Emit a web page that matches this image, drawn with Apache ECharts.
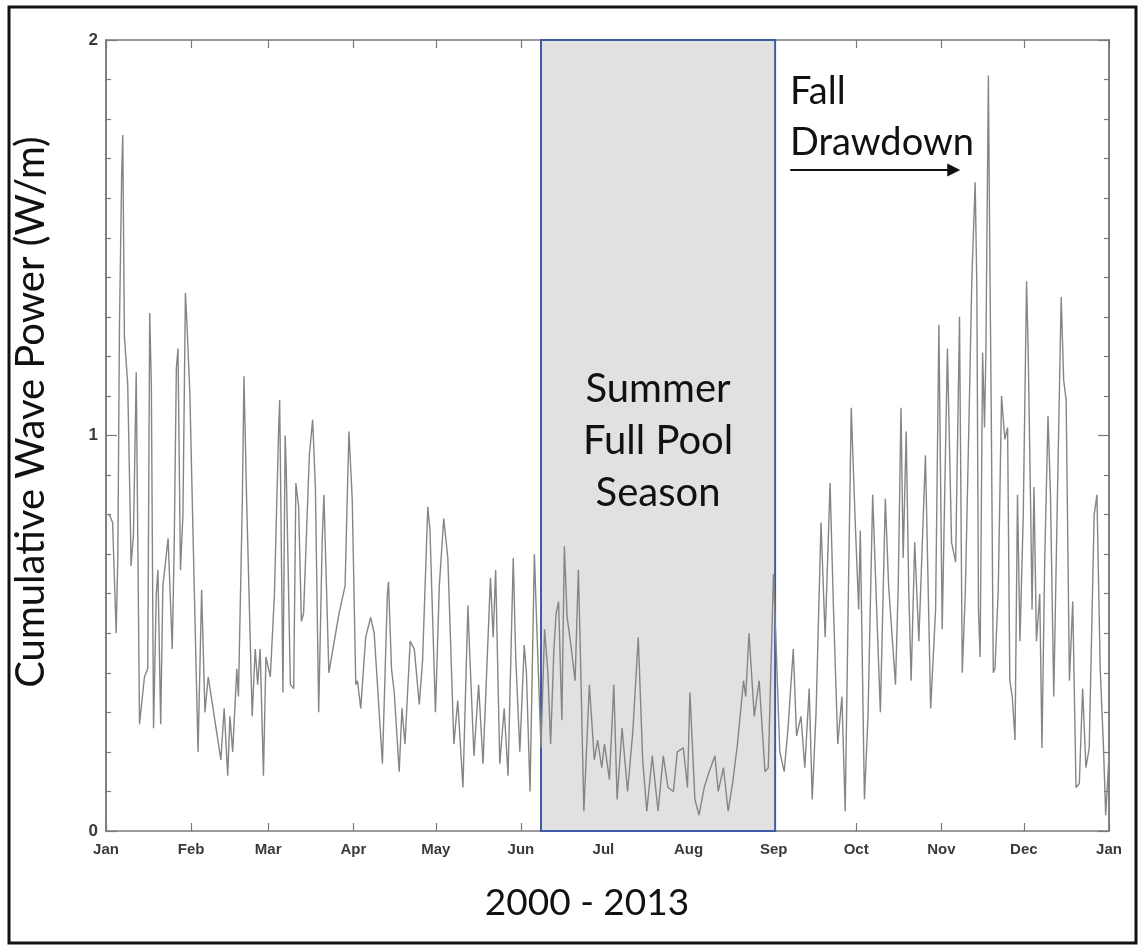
<!DOCTYPE html>
<html>
<head>
<meta charset="utf-8">
<script src="https://cdn.jsdelivr.net/npm/echarts@6/dist/echarts.min.js"></script>
<style>
  html, body { margin: 0; padding: 0; background: #fff; }
  #chart { width: 1140px; height: 951px; }
</style>
</head>
<body>
<div id="chart"></div>
<script>
// Month boundaries (day of year) and their tick labels
const monthStarts = [0, 31, 59, 90, 120, 151, 181, 212, 243, 273, 304, 334, 365];
const monthLabels = ['Jan', 'Feb', 'Mar', 'Apr', 'May', 'Jun', 'Jul', 'Aug', 'Sep', 'Oct', 'Nov', 'Dec', 'Jan'];

// Y ticks: labelled major ticks and the small tenth-step ticks
const yMajorTicks = [0, 1, 2];
const yMinorTicks = [0.1, 0.2, 0.3, 0.4, 0.5, 0.6, 0.7, 0.8, 0.9, 1.1, 1.2, 1.3, 1.4, 1.5, 1.6, 1.7, 1.8, 1.9];

// Day of year for each sample of the climatology
const dayOfYear = [
  0, 1.2, 2.4, 3.7, 4.3, 4.9, 5.7, 6.1, 6.7, 7.9, 8.9, 9.1, 10, 11, 12.2, 14, 15.2, 15.9, 16.5, 17.3,
  18.3, 18.9, 19.9, 20.7, 22.6, 24.1, 24.8, 25.6, 26.2, 27.1, 28, 28.9, 29.6, 30.5, 32.1, 33.5, 34.8, 36, 37.2, 39.4,
  41.8, 43, 44.3, 45.1, 46.1, 47.6, 48.2, 49.6, 50.2, 51.2, 53.2, 54.3, 55.2, 56.1, 57.3, 58.2, 59.8, 61.3, 62.8, 63.2,
  64.4, 65.2, 65.6, 67.1, 68.3, 69.1, 70.1, 71.1, 71.9, 74, 75.2, 76.2, 77.4, 78.7, 79.3, 81.1, 84.8, 87, 88.4, 89.6,
  90.9, 91.5, 92.7, 94.5, 96.3, 97.6, 100.6, 102.4, 102.8, 103.9, 104.9, 106.7, 107.7, 108.8, 110.7, 112.2, 114, 115.2, 117.1, 117.9,
  119.9, 121.3, 122.9, 124.4, 126.6, 128, 129.9, 131.7, 132.3, 133.9, 135.6, 137.2, 139.9, 140.9, 141.8, 143.3, 144.9, 146.3, 148.2, 149.1,
  150.6, 152.2, 153, 154.3, 155.9, 156.7, 158.3,
  159.6, 160.8, 161.8, 163, 163.8, 164.7, 165.9, 166.8, 167.8, 169, 170.7, 171.9, 172.6, 173.9, 175.9, 177.7, 178.9, 180.4, 181.4, 183.2,
  184.8, 186, 187.8, 189.8, 191.7, 193.7, 195.3, 196.8, 198.8, 200.9, 202.8, 204.5, 206.5, 207.9, 210.1, 211.6, 212.5, 214.3, 215.8, 217.7,
  219.5, 221.6, 222.8, 224.7, 226.4, 228, 229.8, 232, 232.8, 234, 235.9, 237.7, 239.8, 241, 242.9, 243.8,
  245.2, 246.8, 248.2, 250.1, 251.3, 252.9, 254.3, 255.9, 257, 258.4, 260.2, 261.7, 263.5, 264.7, 266.3, 267.8, 269, 270.2, 271.2, 272.6,
  273.9, 274.5, 276, 277.3, 279, 280.2, 281.8, 283.6, 284.8, 287.3, 288.3, 289.3, 290.1, 291.2, 292.1, 293, 294.3, 295.8, 298.2, 300.1,
  301.9, 303.1, 304.3, 306.2, 307.7, 309.2, 310.6,
  311.6, 312.7, 313.9, 315.1, 316.3, 316.9, 317.5, 318.1, 319, 319.7, 320.2, 321.1, 321.7, 322.1, 322.9, 323.5, 324.7, 325.9, 327.1, 328.1,
  328.9, 329.8, 330.8, 331.7, 332.6, 333.8, 335, 335.6, 336.5, 337, 337.7, 338.6, 339.8, 340.6, 341.6, 342.8, 343.7, 344.9, 346.4, 347.6,
  348.5, 349.4, 350.6, 351.8, 353, 354.2, 355.4, 356.6, 357.8, 359.6, 360.6, 361.8, 363, 363.8, 365
];

// Cumulative wave power (W/m) at each sample
const wavePower = [
  0.80, 0.80, 0.78, 0.50, 0.69, 1.28, 1.66, 1.76, 1.25, 1.13, 0.77, 0.67, 0.75, 1.16, 0.27, 0.39, 0.41, 1.31, 1.13, 0.26,
  0.60, 0.66, 0.27, 0.62, 0.74, 0.46, 0.71, 1.17, 1.22, 0.66, 0.80, 1.36, 1.26, 1.11, 0.62, 0.20, 0.61, 0.30, 0.39, 0.29,
  0.18, 0.31, 0.14, 0.29, 0.20, 0.41, 0.34, 0.83, 1.15, 0.83, 0.29, 0.46, 0.37, 0.46, 0.14, 0.44, 0.39, 0.60, 1.01, 1.09,
  0.35, 1.00, 0.91, 0.37, 0.36, 0.88, 0.82, 0.53, 0.55, 0.95, 1.04, 0.87, 0.30, 0.74, 0.85, 0.40, 0.55, 0.62, 1.01, 0.84,
  0.37, 0.38, 0.31, 0.49, 0.54, 0.50, 0.17, 0.60, 0.63, 0.41, 0.35, 0.15, 0.31, 0.22, 0.48, 0.46, 0.32, 0.43, 0.82, 0.76,
  0.30, 0.62, 0.79, 0.69, 0.22, 0.33, 0.11, 0.57, 0.46, 0.19, 0.37, 0.17, 0.64, 0.49, 0.66, 0.17, 0.31, 0.14, 0.69, 0.44,
  0.20, 0.47, 0.40, 0.10, 0.70, 0.53, 0.21,
  0.51, 0.40, 0.22, 0.46, 0.55, 0.58, 0.28, 0.72, 0.54, 0.48, 0.38, 0.66, 0.46, 0.05, 0.37, 0.18, 0.23, 0.16, 0.22, 0.13,
  0.37, 0.08, 0.26, 0.10, 0.25, 0.49, 0.18, 0.05, 0.19, 0.05, 0.19, 0.11, 0.10, 0.20, 0.21, 0.11, 0.35, 0.08, 0.04, 0.11,
  0.15, 0.19, 0.10, 0.16, 0.05, 0.12, 0.22, 0.38, 0.34, 0.50, 0.29, 0.38, 0.15, 0.16, 0.65, 0.48,
  0.20, 0.15, 0.26, 0.46, 0.24, 0.29, 0.16, 0.36, 0.08, 0.30, 0.78, 0.49, 0.88, 0.57, 0.22, 0.34, 0.05, 0.62, 1.07, 0.79,
  0.56, 0.76, 0.08, 0.29, 0.85, 0.61, 0.30, 0.84, 0.62, 0.37, 0.62, 1.07, 0.69, 1.01, 0.62, 0.38, 0.73, 0.48, 0.95, 0.31,
  0.56, 1.28, 0.51, 1.22, 0.73, 0.68, 1.30,
  0.40, 0.60, 0.99, 1.40, 1.64, 1.38, 0.56, 0.44, 1.21, 1.02, 1.21, 1.91, 1.40, 1.10, 0.40, 0.41, 0.61, 1.10, 0.99, 1.02,
  0.38, 0.34, 0.23, 0.85, 0.48, 0.80, 1.39, 1.21, 0.81, 0.56, 0.87, 0.48, 0.60, 0.21, 0.68, 1.05, 0.85, 0.34, 0.91, 1.35,
  1.14, 1.09, 0.38, 0.58, 0.11, 0.12, 0.36, 0.16, 0.21, 0.80, 0.85, 0.41, 0.21, 0.04, 0.19
];

// Summer full-pool window (day of year) and the fall drawdown arrow
const summerPool = [158.3, 243.5];
const drawdownArrow = { from: 249, to: 308.5, level: 1.671 };

const series = dayOfYear.map((d, i) => [d, wavePower[i]]);
const labelFont = { fontFamily: 'Liberation Sans, Arial, sans-serif', fontSize: 15, fontWeight: 'bold', color: '#3a3a3a' };
const textFont = 'Lato, "Open Sans", sans-serif';
const frameColor = '#7a7a7a';

const chart = echarts.init(document.getElementById('chart'), null, { renderer: 'canvas' });

const xCommon = {
  type: 'value',
  min: 0,
  max: 365,
  axisLine: { show: true, onZero: false, lineStyle: { color: frameColor, width: 1.5 } },
  splitLine: { show: false },
  axisTick: { show: true, inside: true, length: 8, customValues: monthStarts, lineStyle: { color: frameColor, width: 1.2 } }
};

// one y axis per tick family and side; only the first carries labels
function yAxisDef(position, ticks, tickLen, withLabels) {
  return {
    type: 'value',
    position: position,
    min: 0,
    max: 2,
    interval: 1,
    axisLine: { show: true, onZero: false, lineStyle: { color: frameColor, width: 1.5 } },
    splitLine: { show: false },
    axisTick: { show: true, inside: true, length: tickLen, customValues: ticks, lineStyle: { color: frameColor, width: 1.2 } },
    axisLabel: withLabels
      ? Object.assign({ show: true, margin: 8, customValues: yMajorTicks }, labelFont, { fontSize: 17 })
      : { show: false }
  };
}

chart.setOption({
  backgroundColor: '#ffffff',
  animation: false,
  grid: { left: 106, right: 31, top: 40, bottom: 120 },
  xAxis: [
    Object.assign({}, xCommon, {
      position: 'bottom',
      axisLabel: Object.assign({
        show: true,
        margin: 11,
        customValues: monthStarts,
        formatter: v => monthLabels[monthStarts.indexOf(v)]
      }, labelFont)
    }),
    Object.assign({}, xCommon, { position: 'top', axisLabel: { show: false } })
  ],
  yAxis: [
    yAxisDef('left', yMajorTicks, 11, true),
    yAxisDef('left', yMinorTicks, 5, false),
    yAxisDef('right', yMajorTicks, 11, false),
    yAxisDef('right', yMinorTicks, 5, false)
  ],
  series: [
    {
      // shaded summer window and the drawdown arrow, drawn beneath the trace
      type: 'line',
      data: [],
      z: 1,
      silent: true,
      markArea: {
        silent: true,
        itemStyle: { color: '#e1e1e1', borderColor: '#3e5ca6', borderWidth: 2, opacity: 1 },
        label: {
          show: true,
          position: 'inside',
          offset: [0, 6],
          formatter: 'Summer\nFull Pool\nSeason',
          fontFamily: textFont,
          fontSize: 40,
          lineHeight: 52,
          color: '#111'
        },
        data: [[{ coord: [summerPool[0], 0] }, { coord: [summerPool[1], 2] }]]
      },
      markLine: {
        silent: true,
        symbol: ['none', 'triangle'],
        symbolSize: 13,
        label: { show: false },
        lineStyle: { color: '#111', width: 2, type: 'solid' },
        data: [[{ coord: [drawdownArrow.from, drawdownArrow.level] }, { coord: [drawdownArrow.to, drawdownArrow.level] }]]
      }
    },
    {
      type: 'line',
      data: series,
      z: 3,
      symbol: 'none',
      smooth: false,
      lineStyle: { color: '#858585', width: 1.4 }
    }
  ],
  graphic: [
    {
      type: 'rect',
      shape: { x: 9, y: 7, width: 1127, height: 936 },
      style: { fill: 'none', stroke: '#111', lineWidth: 3 },
      silent: true
    },
    {
      type: 'text',
      x: 31, y: 412,
      rotation: Math.PI / 2,
      style: { text: 'Cumulative Wave Power (W/m)', font: '40px ' + textFont, fill: '#111', textAlign: 'center', textVerticalAlign: 'middle' }
    },
    {
      type: 'text',
      x: 587, y: 903,
      style: { text: '2000 - 2013', font: '37px ' + textFont, fill: '#111', textAlign: 'center', textVerticalAlign: 'middle' }
    },
    {
      type: 'text',
      x: 790, y: 92,
      style: { text: 'Fall', font: '38px ' + textFont, fill: '#111', textAlign: 'left', textVerticalAlign: 'middle' }
    },
    {
      type: 'text',
      x: 790, y: 143,
      style: { text: 'Drawdown', font: '38px ' + textFont, fill: '#111', textAlign: 'left', textVerticalAlign: 'middle' }
    }
  ]
});
</script>
</body>
</html>
